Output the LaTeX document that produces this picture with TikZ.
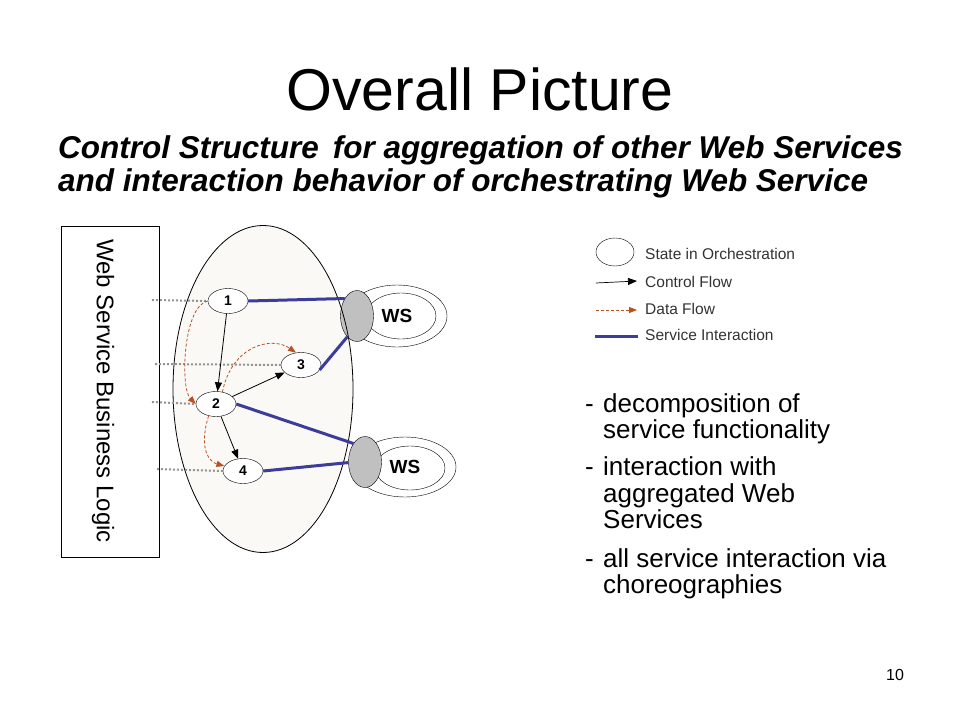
\documentclass[tikz,border=0pt]{standalone}
\usepackage{fontspec}
\setmainfont{Liberation Sans}
\usetikzlibrary{shapes.geometric,arrows.meta}
\definecolor{svcblue}{RGB}{60,60,155}
\definecolor{dataflow}{RGB}{185,80,35}
\definecolor{orchfill}{RGB}{251,249,246}
\definecolor{wsgray}{RGB}{192,192,192}
\tikzset{
  state/.style={ellipse, draw, fill=white, inner sep=0pt, minimum width=40pt, minimum height=25pt, font=\fontsize{14}{14}\selectfont\bfseries},
  ring/.style={ellipse, draw, fill=white, inner sep=0pt},
  wsport/.style={ellipse, draw, fill=wsgray, inner sep=0pt, minimum width=33pt, minimum height=51pt},
  ctrl/.style={draw=black, line width=0.8pt, -{Triangle[length=9pt,width=7pt]}},
  dflow/.style={draw=dataflow, line width=0.8pt, dash pattern=on 3pt off 2pt, -{Triangle[length=8pt,width=6pt]}},
  svc/.style={draw=svcblue, line width=3pt},
  dots/.style={draw=gray!85, line width=2pt, dash pattern=on 2pt off 2pt},
  legtext/.style={anchor=west, font=\fontsize{15.5}{16}\selectfont, text=black!80, inner sep=0pt},
  bullet/.style={anchor=base west, inner sep=0pt, font=\fontsize{26}{26}\selectfont},
}
\begin{document}
\begin{tikzpicture}[x=1pt,y=-1pt]
\useasboundingbox[fill=white] (0,0) rectangle (960,720);

% titles
\node[anchor=base, inner sep=0pt, font=\fontsize{59}{59}\selectfont] (title) at (480,110) {Overall Picture};
\node[anchor=base west, inner sep=0pt, font=\fontsize{31.5}{32}\selectfont\bfseries\itshape] (sub1) at (58,158) {Control Structure\, for aggregation of other Web Services};
\node[anchor=base west, inner sep=0pt, font=\fontsize{31.5}{32}\selectfont\bfseries\itshape] (sub2) at (58,191) {and interaction behavior of orchestrating Web Service};

% business logic box
\node[draw, line width=0.8pt, minimum width=98pt, minimum height=331pt, inner sep=0pt] (bl) at (110,392) {};
\node[rotate=-90, font=\fontsize{24}{24}\selectfont, inner sep=0pt] (bltext) at (103,391) {Web Service Business Logic};

% orchestration ellipse (fill)
\node[ellipse, fill=orchfill, inner sep=0pt, minimum width=180pt, minimum height=327pt] (orch) at (263,389) {};

% WS rings
\node[ring, minimum width=100pt, minimum height=62pt] (ro1) at (397,316) {};
\node[ring, minimum width=70pt, minimum height=46pt] (ri1) at (401,316) {};
\node[ring, minimum width=102pt, minimum height=60pt] (ro2) at (405,467) {};
\node[ring, minimum width=70pt, minimum height=44pt] (ri2) at (410,468) {};
\node[font=\fontsize{19}{19}\selectfont\bfseries, inner sep=0pt] (ws1) at (397,316) {WS};
\node[font=\fontsize{19}{19}\selectfont\bfseries, inner sep=0pt] (ws2) at (405,467) {WS};

% state nodes
\node[state] (n1) at (228,301) {1};
\node[state] (n2) at (216,404) {2};
\node[state] (n3) at (301,365) {3};
\node[state] (n4) at (243,471) {4};

% ports
\node[wsport] (g1) at (357,316) {};
\node[wsport] (g2) at (365,462) {};

% orchestration ellipse outline on top
\draw[line width=0.8pt] (orch.center) ellipse [x radius=90pt, y radius=163.5pt];

% service interactions
\draw[svc] (n1.east) -- (g1.125);
\draw[svc] (n3.-15) -- (g1.245);
\draw[svc] (n2.east) -- (g2.122);
\draw[svc] (n4.east) -- (g2.182);

% dotted links to business logic
\coordinate (d1) at (152,300);
\coordinate (d2) at (155,364);
\coordinate (d3) at (152,402);
\coordinate (d4) at (157,469);
\draw[dots] (d1) -- (n1.west);
\draw[dots] (d2) -- (n3.west);
\draw[dots] (d3) -- (n2.west);
\draw[dots] (d4) -- (n4.west);

% control flow
\draw[ctrl] (n1) -- (n2);
\draw[ctrl] (n2) -- (n3);
\draw[ctrl] (n2) -- (n4);

% data flow
\draw[dflow] (n1.west) .. controls (183,306) and (180,388) .. (n2.west);
\draw[dflow] (n2.62) .. controls (232,345) and (272,336) .. (n3.112);
\draw[dflow] (n2.238) .. controls (198,450) and (210,462) .. (n4.165);

% legend
\node[ellipse, draw, fill=white, inner sep=0pt, minimum width=38pt, minimum height=28pt] (lst) at (615,252) {};
\node[legtext] (lt1) at (645,254) {State in Orchestration};
\coordinate (lc1) at (596,283);
\coordinate (lc2) at (637,281);
\draw[ctrl, line width=0.7pt] (lc1) -- (lc2);
\node[legtext] (lt2) at (645,282) {Control Flow};
\coordinate (ld1) at (596,310);
\coordinate (ld2) at (637,310);
\draw[dflow] (ld1) -- (ld2);
\node[legtext] (lt3) at (645,309) {Data Flow};
\coordinate (ls1) at (595,336);
\coordinate (ls2) at (638,336);
\draw[svc] (ls1) -- (ls2);
\node[legtext] (lt4) at (645,335) {Service Interaction};

% bullets
\node[bullet] (b1a) at (585,412) {-};
\node[bullet] (b1) at (603,412) {decomposition of};
\node[bullet] (b1b) at (603,438) {service functionality};
\node[bullet] (b2a) at (585,475) {-};
\node[bullet] (b2) at (603,475) {interaction with};
\node[bullet] (b2b) at (603,502) {aggregated Web};
\node[bullet] (b2c) at (603,528) {Services};
\node[bullet] (b3a) at (585,567) {-};
\node[bullet] (b3) at (603,567) {all service interaction via};
\node[bullet] (b3b) at (603,593) {choreographies};

% page number
\node[font=\fontsize{16}{16}\selectfont, inner sep=0pt] (pg) at (895,675) {10};
\end{tikzpicture}
\end{document}
